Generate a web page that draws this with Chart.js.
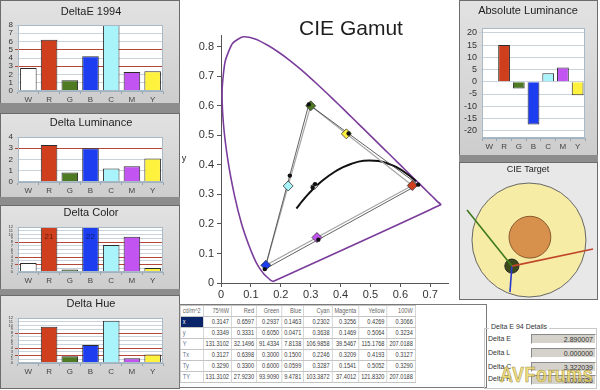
<!DOCTYPE html>
<html>
<head>
<meta charset="utf-8">
<script src="https://cdn.jsdelivr.net/npm/chart.js@4.4.0/dist/chart.umd.min.js"></script>
<style>
  body { margin:0; width:600px; height:390px; background:#fff; position:relative; overflow:hidden; font-family:"Liberation Sans", Arial, sans-serif; }
  .panel { position:absolute; box-sizing:border-box; border:1px solid #6c6c6c; background:linear-gradient(#e2e2e2, #cdcdcd); }
  .band { position:absolute; background:#8d8d8d; }
  canvas { position:absolute; }
  #tblWrap { position:absolute; left:179px; top:304px; width:306px; height:82px; border:1px solid #7a7a7a; background:#fff; overflow:hidden; }
  #tbl { border-collapse:collapse; transform:scaleX(0.7); transform-origin:0 0; font-size:8px; color:#3a3a3a; table-layout:fixed; }
  #tbl td { border:1px solid #c4c4c4; height:10px; padding:0 3px; text-align:right; white-space:nowrap; overflow:hidden; line-height:10px; }
  #tbl td.lab { text-align:left; color:#5b6f8a; }
  #tbl td.sel { background:#0a246a; color:#fff; }
  #tbl tr.head td { color:#666; }
  #grp { position:absolute; left:484px; top:328px; width:113px; height:61px; box-sizing:border-box; border:1px solid #c9c9c9; }
  #grpLab { position:absolute; left:489px; top:323px; font-size:7px; color:#333; background:#fff; padding:0 2px; }
  .dl { position:absolute; left:488px; font-size:7px; color:#333; }
  .dv { position:absolute; left:531px; width:65px; height:10px; box-sizing:border-box; background:#d5d2cb; border:1px solid; border-color:#8a8a8a #fff #fff #8a8a8a; font-size:7px; line-height:9px; text-align:right; padding-right:2px; color:#333; }
  #wm { position:absolute; left:500px; top:362px; font-size:22px; font-weight:bold; color:rgba(236,214,96,0.8); -webkit-text-stroke:0.6px rgba(110,95,30,0.7); transform:scaleX(0.82); transform-origin:0 0; letter-spacing:0.5px; }
</style>
</head>
<body>
<!-- left column panels -->
<div class="panel" style="left:0;top:0;width:180px;height:104px"></div>
<div class="band" style="left:0;top:103px;width:180px;height:10px"></div>
<div class="panel" style="left:0;top:113px;width:180px;height:85px"></div>
<div class="band" style="left:0;top:197px;width:180px;height:8px"></div>
<div class="panel" style="left:0;top:205px;width:180px;height:85px"></div>
<div class="band" style="left:0;top:289px;width:180px;height:6px"></div>
<div class="panel" style="left:0;top:295px;width:180px;height:94px"></div>

<canvas id="pE" width="177" height="101" style="left:1px;top:1px"></canvas>
<canvas id="pL" width="177" height="82" style="left:1px;top:114px"></canvas>
<canvas id="pC" width="177" height="82" style="left:1px;top:206px"></canvas>
<canvas id="pH" width="177" height="91" style="left:1px;top:296px"></canvas>

<!-- right column panels -->
<div class="panel" style="left:459px;top:0;width:139px;height:156px"></div>
<div class="band" style="left:459px;top:155px;width:139px;height:7px"></div>
<div class="panel" style="left:459px;top:162px;width:139px;height:138px;background:#e8e8e8"></div>
<canvas id="pA" width="136" height="153" style="left:460px;top:1px"></canvas>
<canvas id="pT" width="137" height="136" style="left:460px;top:163px"></canvas>

<canvas id="gamut" width="272" height="300" style="left:182px;top:0"></canvas>

<div id="tblWrap"><table id="tbl"></table></div>

<div id="grp"></div>
<div id="grpLab">Delta E 94 Details</div>
<div class="dl" style="top:335px">Delta E</div>
<div class="dl" style="top:349px">Delta L</div>
<div class="dl" style="top:363px">Delta C</div>
<div class="dl" style="top:375px">Delta H</div>
<div class="dv" style="top:334px" id="v0"></div>
<div class="dv" style="top:348px" id="v1"></div>
<div class="dv" style="top:362px" id="v2"></div>
<div class="dv" style="top:375px" id="v3"></div>
<div id="wm">AVForums</div>

<script>
// bar panels
const cats = ['W', 'R', 'G', 'B', 'C', 'M', 'Y'];
const barColors = ['#ffffff', '#cf3f1d', '#4d7a22', '#1d3df0', '#a9f3fb', '#c254f2', '#fff23f'];
const deltaE94 = [2.8, 6.2, 1.3, 4.2, 8.0, 2.3, 2.4];
const deltaLum = [0, 3.3, 0.85, 3.0, 1.2, 1.4, 2.1];
const deltaColor = [2.4, 21, 0.7, 22, 7.2, 9.4, 1.1];
const deltaHue = [0, 9.7, 1.8, 4.8, 11.3, 1.3, 2.3];
const absLum = [0, 15, -2.8, -17.5, 3.5, 5.8, -5.5];
const absLumTicks = [-20, -15, -10, -5, 0, 5, 10, 15, 20];

// table / CIE points (75%W, Red, Green, Blue, Cyan, Magenta, Yellow, 100W)
const tblCols = ['75%W', 'Red', 'Green', 'Blue', 'Cyan', 'Magenta', 'Yellow', '100W'];
const measX = [0.3147, 0.6597, 0.2937, 0.1463, 0.2302, 0.3256, 0.4269, 0.3066];
const measY = [0.3349, 0.3331, 0.6050, 0.0471, 0.3638, 0.1469, 0.5064, 0.3234];
const measLum = [131.3102, 32.1496, 91.4334, 7.8138, 106.9858, 39.5467, 115.1768, 207.0188];
const targX = [0.3127, 0.6398, 0.3000, 0.1500, 0.2246, 0.3209, 0.4193, 0.3127];
const targY = [0.3290, 0.3300, 0.6000, 0.0599, 0.3287, 0.1541, 0.5052, 0.3290];
const targLum = [131.3102, 27.9230, 93.9090, 9.4781, 103.3872, 37.4012, 121.8320, 207.0188];
const triIdx = [1, 2, 3, 1];
const diamondColors = ['#dedede', '#cf3f1d', '#4d7a22', '#1d3df0', '#a9f3fb', '#c254f2', '#fff23f'];

// CIE 1931 spectral locus and planckian locus
const locusX = [0.1741, 0.1644, 0.1566, 0.1440, 0.1241, 0.1096, 0.0913, 0.0687, 0.0454, 0.0235, 0.0082, 0.0039, 0.0139, 0.0389, 0.0743, 0.1142, 0.1547, 0.1929, 0.2296, 0.2658, 0.3016, 0.3373, 0.3731, 0.4087, 0.4441, 0.4788, 0.5125, 0.5448, 0.5752, 0.6029, 0.6270, 0.6658, 0.6915, 0.7079, 0.7190, 0.7260, 0.7347, 0.1741];
const locusY = [0.0050, 0.0109, 0.0177, 0.0297, 0.0578, 0.0868, 0.1327, 0.2007, 0.2950, 0.4127, 0.5384, 0.6548, 0.7502, 0.8120, 0.8338, 0.8262, 0.8059, 0.7816, 0.7543, 0.7243, 0.6923, 0.6589, 0.6245, 0.5896, 0.5547, 0.5202, 0.4866, 0.4544, 0.4242, 0.3965, 0.3725, 0.3340, 0.3083, 0.2920, 0.2809, 0.2740, 0.2653, 0.0050];
const planckX = [0.6528, 0.6251, 0.5857, 0.5494, 0.5267, 0.4770, 0.4369, 0.4053, 0.3805, 0.3451, 0.3221, 0.3064, 0.2952, 0.2807, 0.2637, 0.2565, 0.2525];
const planckY = [0.3444, 0.3674, 0.3931, 0.4077, 0.4133, 0.4137, 0.4041, 0.3907, 0.3768, 0.3516, 0.3318, 0.3166, 0.3048, 0.2884, 0.2673, 0.2577, 0.2522];

// CIE target (error units)
const ringR = [3.0, 1.1, 0.37];
const ringX = [0, 0.05, -0.9];
const ringY = [0, 0.15, -1.37];
const ringFill = ['#f6eca6', '#d8914c', '#3b4a18'];
const ringLine = ['#666', '#8a5a30', '#222'];
const vecEndX = [-3.26, 3.37, -1.0];
const vecEndY = [1.58, -0.47, -2.74];
const vecColors = ['#3f7a1f', '#c0452a', '#2a3ad0'];

const deltaDetails = ['2.890007', '0.000000', '3.322039', '1.003036'];

const FONT = '"Liberation Sans", Arial, sans-serif';
Chart.defaults.font.family = FONT;

const panelDeco = {
  id: 'panelDeco',
  beforeDraw(chart, args, o) {
    const a = chart.chartArea, c = chart.ctx;
    if (o.plotBg) { c.save(); c.fillStyle = o.plotBg; c.fillRect(a.left, a.top, a.width, a.height); c.restore(); }
  },
  afterDraw(chart, args, o) {
    const a = chart.chartArea, c = chart.ctx;
    if (o.frame) {
      c.save(); c.strokeStyle = o.frame; c.lineWidth = 1;
      c.strokeRect(Math.round(a.left) + 0.5, Math.round(a.top) + 0.5, Math.round(a.width) - 1, Math.round(a.height) - 1);
      c.restore();
    }
    if (o.text) {
      c.save(); c.font = o.titleFont; c.fillStyle = '#1e1e1e'; c.textAlign = 'center'; c.textBaseline = 'middle';
      c.fillText(o.text, o.tx, o.ty); c.restore();
    }
  }
};

const overLabels = {
  id: 'overLabels',
  afterDatasetsDraw(chart) {
    const meta = chart.getDatasetMeta(0), max = chart.scales.y.max, c = chart.ctx;
    chart.data.datasets[0].data.forEach((v, i) => {
      if (v <= max) return;
      c.save(); c.font = '8px ' + FONT; c.fillStyle = 'rgba(0,0,0,0.55)'; c.textAlign = 'center'; c.textBaseline = 'middle';
      c.fillText(String(v), meta.data[i].x, chart.chartArea.top + 10); c.restore();
    });
  }
};

function barPanel(id, values, g) {
  new Chart(document.getElementById(id), {
    type: 'bar',
    data: {
      labels: cats,
      datasets: [{ data: values, backgroundColor: barColors, borderColor: '#2b2b2b', borderWidth: 1, barPercentage: 0.8, categoryPercentage: 1 }]
    },
    options: {
      responsive: false,
      animation: false,
      layout: { padding: { top: g.top, right: g.right, left: 0, bottom: 0 } },
      plugins: {
        legend: { display: false },
        tooltip: { enabled: false },
        panelDeco: { plotBg: '#fff', frame: '#a9b9c6', text: g.title, titleFont: g.titleSize + 'px ' + FONT, tx: g.tx, ty: g.ty }
      },
      scales: {
        x: {
          grid: { drawOnChartArea: false, tickLength: 3, color: '#8fa2b2' },
          border: { color: '#9fb0bf' },
          ticks: { color: '#444', font: { size: 8 }, padding: 1 },
          afterFit: s => { s.height = g.xh; }
        },
        y: {
          min: g.min, max: g.max,
          afterBuildTicks: g.ticks ? s => { s.ticks = g.ticks.map(v => ({ value: v })); } : undefined,
          ticks: { stepSize: g.step, autoSkip: false, color: '#333', font: { size: g.tickSize }, padding: 2 },
          grid: { color: c => (c.tick && g.red.includes(c.tick.value)) ? '#b5473a' : '#c9d3db', tickLength: 3 },
          border: { color: '#9fb0bf' },
          afterFit: s => { s.width = g.yw; }
        }
      }
    },
    plugins: [panelDeco].concat(g.over ? [overLabels] : [])
  });
}

barPanel('pE', deltaE94, { title: 'DeltaE 1994', titleSize: 11, tx: 90, ty: 11, top: 24, right: 15, xh: 11, yw: 17, min: 0, max: 8, step: 1, tickSize: 8, red: [3, 5] });
barPanel('pL', deltaLum, { title: 'Delta Luminance', titleSize: 11, tx: 90, ty: 9, top: 23, right: 15, xh: 14, yw: 17, min: 0, max: 4, step: 1, tickSize: 8, red: [3] });
barPanel('pC', deltaColor, { title: 'Delta Color', titleSize: 11, tx: 90, ty: 7, top: 21, right: 15, xh: 16, yw: 17, min: 0, max: 12, step: 1, tickSize: 4, red: [2, 4, 8], over: true });
barPanel('pH', deltaHue, { title: 'Delta Hue', titleSize: 11, tx: 90, ty: 8, top: 22, right: 15, xh: 24, yw: 17, min: 0, max: 12, step: 1, tickSize: 4, red: [2, 4, 8] });
barPanel('pA', absLum, { title: 'Absolute Luminance', titleSize: 11, tx: 68, ty: 10, top: 27, right: 11, xh: 16, yw: 22, min: -23, max: 22, ticks: absLumTicks, tickSize: 9, red: [] });

// CIE gamut
const pts = (xs, ys, idx) => (idx || xs.map((_, i) => i)).map(i => ({ x: xs[i], y: ys[i] }));
const gamutText = {
  id: 'gamutText',
  afterDraw(chart) {
    const c = chart.ctx;
    c.save(); c.fillStyle = '#1e1e1e'; c.textAlign = 'center'; c.textBaseline = 'middle';
    c.font = '21px ' + FONT; c.fillText('CIE Gamut', 169, 29);
    c.font = '9px ' + FONT; c.fillText('y', 2, 159);
    c.restore();
  }
};
new Chart(document.getElementById('gamut'), {
  type: 'scatter',
  data: {
    datasets: [
      { data: pts(measX, measY), pointRadius: 2.2, backgroundColor: '#111', borderColor: '#111', borderWidth: 0, order: 1 },
      { data: pts(targX, targY, [0, 1, 2, 3, 4, 5, 6]), pointStyle: 'rectRot', pointRadius: [3.5, 5, 5, 5, 5, 5, 5], backgroundColor: diamondColors, borderColor: '#333', borderWidth: 0.8, order: 2 },
      { data: pts(measX, measY, triIdx), showLine: true, borderColor: '#3a3a3a', borderWidth: 0.8, pointRadius: 0, order: 3 },
      { data: pts(targX, targY, triIdx), showLine: true, borderColor: '#a6a6a6', borderWidth: 1.2, pointRadius: 0, order: 4 },
      { data: pts(planckX, planckY), showLine: true, borderColor: '#111', borderWidth: 2, pointRadius: 0, tension: 0.4, order: 5 },
      { data: pts(locusX, locusY), showLine: true, borderColor: '#7b3d9b', borderWidth: 1.6, pointRadius: 0, tension: 0.2, order: 6 }
    ]
  },
  options: {
    responsive: false,
    animation: false,
    layout: { padding: { top: 35, right: 5, left: 0, bottom: 0 } },
    plugins: { legend: { display: false }, tooltip: { enabled: false } },
    scales: {
      x: {
        min: 0, max: 0.76,
        ticks: { stepSize: 0.1, includeBounds: false, color: '#333', font: { size: 11 }, padding: 1, callback: v => v === 0 ? '0' : v.toFixed(1) },
        grid: { drawOnChartArea: false, tickLength: 4, color: '#555' },
        border: { color: '#555' },
        afterFit: s => { s.height = 17; }
      },
      y: {
        min: 0, max: 0.84,
        ticks: { stepSize: 0.1, includeBounds: false, color: '#333', font: { size: 11 }, padding: 3, callback: v => v === 0 ? '0' : v.toFixed(1) },
        grid: { drawOnChartArea: false, tickLength: 4, color: '#555' },
        border: { color: '#555' },
        afterFit: s => { s.width = 39; }
      }
    }
  },
  plugins: [gamutText]
});

// CIE target
const targetRings = {
  id: 'targetRings',
  beforeDatasetsDraw(chart) {
    const c = chart.ctx, sx = chart.scales.x, sy = chart.scales.y;
    c.save();
    c.font = '9px ' + FONT; c.fillStyle = '#222'; c.textAlign = 'center'; c.textBaseline = 'middle';
    c.fillText('CIE Target', 68, 7);
    ringR.forEach((r, i) => {
      const px = sx.getPixelForValue(ringX[i]), py = sy.getPixelForValue(ringY[i]);
      const pr = sx.getPixelForValue(r) - sx.getPixelForValue(0);
      c.beginPath(); c.arc(px, py, pr, 0, Math.PI * 2);
      c.fillStyle = ringFill[i]; c.fill();
      c.lineWidth = 1; c.strokeStyle = ringLine[i]; c.stroke();
    });
    c.restore();
  }
};
new Chart(document.getElementById('pT'), {
  type: 'scatter',
  data: {
    datasets: vecEndX.map((x, i) => ({
      data: [{ x: ringX[2], y: ringY[2] }, { x: x, y: vecEndY[i] }],
      showLine: true, borderColor: vecColors[i], borderWidth: 1.6, pointRadius: 0
    }))
  },
  options: {
    responsive: false,
    animation: false,
    plugins: { legend: { display: false }, tooltip: { enabled: false } },
    scales: {
      x: { display: false, min: -3.63, max: 3.58 },
      y: { display: false, min: -3.1, max: 4.05 }
    }
  },
  plugins: [targetRings]
});

// table
const tbl = document.getElementById('tbl');
const colW = [28, 29, 29, 28, 29, 29, 30, 70, 34];
const rowsDef = [
  ['cd/m^2', tblCols, 'head'],
  ['x', measX.map(v => v.toFixed(4))],
  ['y', measY.map(v => v.toFixed(4))],
  ['Y', measLum.map(v => v.toFixed(4))],
  ['Tx', targX.map(v => v.toFixed(4))],
  ['Ty', targY.map(v => v.toFixed(4))],
  ['TY', targLum.map(v => v.toFixed(4))]
];
let html = '<colgroup>' + colW.map(w => '<col style="width:' + (w / 0.7).toFixed(1) + 'px">').join('') + '</colgroup>';
rowsDef.forEach((r, ri) => {
  html += '<tr class="' + (r[2] || '') + '"><td class="lab' + (ri === 1 ? ' sel' : '') + '">' + r[0] + '</td>' + r[1].map(v => '<td>' + v + '</td>').join('') + '</tr>';
});
tbl.innerHTML = html;

deltaDetails.forEach((v, i) => { document.getElementById('v' + i).textContent = v; });
</script>
</body>
</html>
